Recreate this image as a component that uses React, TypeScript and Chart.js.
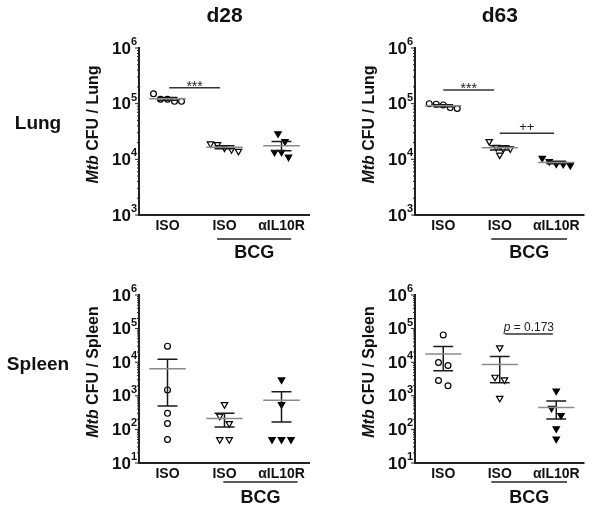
import React, { useEffect, useRef } from 'react';
import { Chart, registerables } from 'chart.js';

Chart.register(...registerables);

const FONT = '"Liberation Sans", Arial, Helvetica, sans-serif';

// ---------- labels ----------
const groupLabels = ['ISO', 'ISO', 'αIL10R'];
const bcgLabel = 'BCG';
const dayTitles = ['d28', 'd63'];
const organLabels = ['Lung', 'Spleen'];
const lungTickPowers = [3, 4, 5, 6];
const spleenTickPowers = [1, 2, 3, 4, 5, 6];

// ---------- data (Mtb CFU) ----------
const lungD28Iso = [150000, 120000, 110000, 110000, 120000];
const lungD28BcgIso = [19000, 16000, 14000, 15000, 18500];
const lungD28BcgAnti = [29000, 21000, 13500, 11000, 13500];

const lungD63Iso = [100000, 95000, 82000, 85000, 98000];
const lungD63BcgIso = [15500, 12000, 21000, 15500, 16500];
const lungD63BcgAnti = [10500, 8300, 7800, 8200, 9200];

const spleenD28Iso = [30000, 1500, 300, 150, 50];
const spleenD28BcgIso = [550, 250, 150, 50, 50];
const spleenD28BcgAnti = [3000, 550, 50, 50, 50];

const spleenD63Iso = [65000, 9800, 8000, 2000, 2850];
const spleenD63BcgIso = [27000, 3600, 3000, 850];
const spleenD63BcgAnti = [1400, 430, 260, 105, 52];

// ---------- significance annotations ----------
const sigLungD28 = [{ from: 0.53, to: 1.42, at: 194000, text: '***' }];
const sigLungD63 = [
  { from: 0.5, to: 1.4, at: 176000, text: '***' },
  { from: 1.5, to: 2.46, at: 29300, text: '++' },
];
const sigSpleenD28: any[] = [];
const sigSpleenD63 = [{ from: 1.59, to: 2.44, at: 69000, text: 'p = 0.173' }];

// ---------- panel layout ----------
type Panel = {
  key: string; x: number; y: number; w: number; h: number;
  pad: { left: number; top: number; right: number; bottom: number };
  organ: string; powers: number[]; groups: number[][];
  title?: string; rowLabel?: string; rowLabelY?: number;
  spacing: number; bcgSpan: [number, number]; bcgLineDy: number; bcgTextDy: number;
  sig: any[];
};

const panels: Panel[] = [
  {
    key: 'lung-d28', x: 0, y: 0, w: 330, h: 259,
    pad: { left: 139, top: 48, right: 20, bottom: 44 },
    organ: organLabels[0], powers: lungTickPowers,
    groups: [lungD28Iso, lungD28BcgIso, lungD28BcgAnti],
    title: dayTitles[0], rowLabel: organLabels[0], rowLabelY: 129,
    spacing: 7, bcgSpan: [1.37, 2.67], bcgLineDy: 24, bcgTextDy: 43, sig: sigLungD28,
  },
  {
    key: 'lung-d63', x: 330, y: 0, w: 270, h: 259,
    pad: { left: 85, top: 48, right: 15.5, bottom: 44 },
    organ: organLabels[0], powers: lungTickPowers,
    groups: [lungD63Iso, lungD63BcgIso, lungD63BcgAnti],
    title: dayTitles[1],
    spacing: 7, bcgSpan: [1.35, 2.69], bcgLineDy: 24, bcgTextDy: 43, sig: sigLungD63,
  },
  {
    key: 'spleen-d28', x: 0, y: 259, w: 330, h: 259,
    pad: { left: 139, top: 36, right: 20, bottom: 55 },
    organ: organLabels[1], powers: spleenTickPowers,
    groups: [spleenD28Iso, spleenD28BcgIso, spleenD28BcgAnti],
    rowLabel: organLabels[1], rowLabelY: 111,
    spacing: 9.5, bcgSpan: [1.48, 2.78], bcgLineDy: 19, bcgTextDy: 40, sig: sigSpleenD28,
  },
  {
    key: 'spleen-d63', x: 330, y: 259, w: 270, h: 259,
    pad: { left: 85, top: 36, right: 15.5, bottom: 55 },
    organ: organLabels[1], powers: spleenTickPowers,
    groups: [spleenD63Iso, spleenD63BcgIso, spleenD63BcgAnti],
    spacing: 9.5, bcgSpan: [1.35, 2.69], bcgLineDy: 19, bcgTextDy: 40, sig: sigSpleenD63,
  },
];

// deterministic "scatter dot plot" spreading: points within a few px share a row
function swarmOffsets(values: number[], pxPerDecade: number, spacingPx: number, thresholdPx: number) {
  const idx = values.map((_, i) => i).sort((a, b) => values[b] - values[a]);
  const offsets = new Array(values.length).fill(0);
  let bin: number[] = [];
  let binTop: number | null = null;
  const flush = () => {
    bin.forEach((i, k) => { offsets[i] = (k - (bin.length - 1) / 2) * spacingPx; });
  };
  for (const i of idx) {
    const l = Math.log10(values[i]);
    if (binTop !== null && (binTop - l) * pxPerDecade < thresholdPx) bin.push(i);
    else { flush(); bin = [i]; binTop = l; }
  }
  flush();
  return offsets;
}

const markerStyles = [
  { pointStyle: 'circle', pointRotation: 0, pointRadius: 2.9, pointBackgroundColor: '#ffffff' },
  { pointStyle: 'triangle', pointRotation: 180, pointRadius: 3.7, pointBackgroundColor: '#ffffff' },
  { pointStyle: 'triangle', pointRotation: 180, pointRadius: 3.7, pointBackgroundColor: '#000000' },
];

function stats(vals: number[]) {
  const n = vals.length;
  const mean = vals.reduce((a, b) => a + b, 0) / n;
  const sd = Math.sqrt(vals.reduce((a, v) => a + (v - mean) * (v - mean), 0) / (n - 1));
  return { mean, sem: sd / Math.sqrt(n) };
}

function makeDeco(cfg: Panel) {
  return {
    id: 'deco-' + cfg.key,
    afterDatasetsDraw(chart: any) {
      const ctx = chart.ctx as CanvasRenderingContext2D;
      const xs = chart.scales.x, ys = chart.scales.y;
      const minV = Math.pow(10, cfg.powers[0]);
      ctx.save();
      cfg.groups.forEach((vals, g) => {
        const { mean, sem } = stats(vals);
        const cx = xs.getPixelForValue(g + 0.5);
        const halfMean = xs.getPixelForValue(g + 0.5 + 0.32) - cx;
        const halfCap = xs.getPixelForValue(g + 0.5 + 0.175) - cx;
        const ym = ys.getPixelForValue(mean);
        const yu = ys.getPixelForValue(mean + sem);
        const yl = ys.getPixelForValue(Math.max(mean - sem, minV));
        ctx.lineWidth = 1.5;
        ctx.strokeStyle = '#1a1a1a';
        ctx.beginPath();
        ctx.moveTo(cx, yu); ctx.lineTo(cx, yl);
        ctx.moveTo(cx - halfCap, yu); ctx.lineTo(cx + halfCap, yu);
        ctx.moveTo(cx - halfCap, yl); ctx.lineTo(cx + halfCap, yl);
        ctx.stroke();
        ctx.strokeStyle = '#8a8a8a';
        ctx.beginPath();
        ctx.moveTo(cx - halfMean, ym); ctx.lineTo(cx + halfMean, ym);
        ctx.stroke();
      });
      // significance bars
      cfg.sig.forEach((s) => {
        const x1 = xs.getPixelForValue(s.from), x2 = xs.getPixelForValue(s.to);
        const y = ys.getPixelForValue(s.at);
        ctx.strokeStyle = '#333';
        ctx.lineWidth = 1.5;
        ctx.beginPath(); ctx.moveTo(x1, y); ctx.lineTo(x2, y); ctx.stroke();
        ctx.fillStyle = '#222';
        ctx.textAlign = 'center';
        ctx.textBaseline = 'alphabetic';
        const mid = (x1 + x2) / 2;
        if (s.text === '***') {
          ctx.font = `14px ${FONT}`;
          ctx.fillText(s.text, mid, y + 3);
        } else if (s.text.startsWith('p')) {
          const a = 'p', b = s.text.slice(1);
          ctx.font = `italic 12px ${FONT}`; const wa = ctx.measureText(a).width;
          ctx.font = `12px ${FONT}`; const wb = ctx.measureText(b).width;
          const start = mid - (wa + wb) / 2;
          ctx.textAlign = 'left';
          ctx.font = `italic 12px ${FONT}`; ctx.fillText(a, start, y - 3);
          ctx.font = `12px ${FONT}`; ctx.fillText(b, start + wa, y - 3);
        } else {
          ctx.font = `13px ${FONT}`;
          ctx.fillText(s.text, mid, y - 2);
        }
      });
      ctx.restore();
    },
    afterDraw(chart: any) {
      const ctx = chart.ctx as CanvasRenderingContext2D;
      const xs = chart.scales.x, ys = chart.scales.y;
      const area = chart.chartArea;
      const ax = area.left, by = area.bottom;
      ctx.save();
      ctx.strokeStyle = '#222';
      ctx.fillStyle = '#111';
      // axes
      ctx.lineWidth = 2;
      ctx.beginPath();
      ctx.moveTo(ax, area.top - 1); ctx.lineTo(ax, by);
      ctx.lineTo(area.right, by);
      ctx.stroke();
      // y ticks (major + minor)
      ctx.lineWidth = 1;
      const pw = cfg.powers;
      ctx.beginPath();
      for (let i = 0; i < pw.length; i++) {
        const y = ys.getPixelForValue(Math.pow(10, pw[i]));
        ctx.moveTo(ax - 4, y); ctx.lineTo(ax, y);
        if (i < pw.length - 1) {
          for (let k = 2; k <= 9; k++) {
            const yy = ys.getPixelForValue(k * Math.pow(10, pw[i]));
            ctx.moveTo(ax - 2, yy); ctx.lineTo(ax, yy);
          }
        }
      }
      ctx.stroke();
      // y tick labels 10^n
      ctx.textAlign = 'right';
      ctx.textBaseline = 'alphabetic';
      pw.forEach((p) => {
        const y = ys.getPixelForValue(Math.pow(10, p));
        ctx.font = `bold 11px ${FONT}`;
        const sw = ctx.measureText(String(p)).width;
        ctx.fillText(String(p), ax - 2, y - 3);
        ctx.font = `bold 17px ${FONT}`;
        ctx.fillText('10', ax - 2 - sw, y + 5.5);
      });
      // y axis title
      const t1 = 'Mtb', t2 = ` CFU / ${cfg.organ}`;
      ctx.font = `italic bold 16px ${FONT}`; const w1 = ctx.measureText(t1).width;
      ctx.font = `bold 16px ${FONT}`; const w2 = ctx.measureText(t2).width;
      ctx.save();
      ctx.translate(ax - 45, (area.top + area.bottom) / 2 - 7);
      ctx.rotate(-Math.PI / 2);
      ctx.textAlign = 'left';
      ctx.textBaseline = 'middle';
      ctx.font = `italic bold 16px ${FONT}`; ctx.fillText(t1, -(w1 + w2) / 2, 0);
      ctx.font = `bold 16px ${FONT}`; ctx.fillText(t2, -(w1 + w2) / 2 + w1, 0);
      ctx.restore();
      // x tick labels
      ctx.textAlign = 'center';
      ctx.font = `bold 14px ${FONT}`;
      groupLabels.forEach((lab, i) => {
        ctx.fillText(lab, xs.getPixelForValue(i + 0.5), by + 15);
      });
      // BCG bracket
      const bx1 = xs.getPixelForValue(cfg.bcgSpan[0]), bx2 = xs.getPixelForValue(cfg.bcgSpan[1]);
      ctx.lineWidth = 1.5;
      ctx.beginPath();
      ctx.moveTo(bx1, by + cfg.bcgLineDy); ctx.lineTo(bx2, by + cfg.bcgLineDy);
      ctx.stroke();
      ctx.font = `bold 18px ${FONT}`;
      ctx.fillText(bcgLabel, (bx1 + bx2) / 2, by + cfg.bcgTextDy);
      // column title
      if (cfg.title) {
        ctx.font = `bold 21px ${FONT}`;
        ctx.fillText(cfg.title, (area.left + area.right) / 2, 22);
      }
      // row label
      if (cfg.rowLabel) {
        ctx.font = `bold 19px ${FONT}`;
        ctx.fillText(cfg.rowLabel, 38, cfg.rowLabelY || 0);
      }
      ctx.restore();
    },
  };
}

function PanelChart({ cfg }: { cfg: Panel }) {
  const ref = useRef<HTMLCanvasElement>(null);
  useEffect(() => {
    const plotH = cfg.h - cfg.pad.top - cfg.pad.bottom;
    const plotW = cfg.w - cfg.pad.left - cfg.pad.right;
    const decades = cfg.powers[cfg.powers.length - 1] - cfg.powers[0];
    const pxPerDecade = plotH / decades;
    const pxPerUnit = plotW / groupLabels.length;
    const datasets = cfg.groups.map((vals, g) => {
      const offs = swarmOffsets(vals, pxPerDecade, cfg.spacing, 9);
      return {
        label: groupLabels[g],
        data: vals.map((v, i) => ({ x: g + 0.5 + offs[i] / pxPerUnit, y: v })),
        ...markerStyles[g],
        pointBorderColor: '#000000',
        pointBorderWidth: 1.2,
        showLine: false,
      };
    });
    const chart = new Chart(ref.current as HTMLCanvasElement, {
      type: 'scatter',
      data: { datasets: datasets as any },
      options: {
        responsive: false,
        animation: false,
        devicePixelRatio: 1,
        layout: { padding: cfg.pad },
        plugins: { legend: { display: false }, tooltip: { enabled: false } },
        scales: {
          x: { type: 'linear', min: 0, max: groupLabels.length, display: false },
          y: {
            type: 'logarithmic',
            min: Math.pow(10, cfg.powers[0]),
            max: Math.pow(10, cfg.powers[cfg.powers.length - 1]),
            display: false,
          },
        },
      } as any,
      plugins: [makeDeco(cfg)],
    });
    return () => chart.destroy();
  }, [cfg]);
  return (
    <canvas
      ref={ref}
      width={cfg.w}
      height={cfg.h}
      style={{ position: 'absolute', left: cfg.x, top: cfg.y, width: cfg.w, height: cfg.h }}
    />
  );
}

export default function App() {
  return (
    <div style={{ position: 'absolute', left: 0, top: 0, width: 600, height: 518, background: '#ffffff', overflow: 'hidden' }}>
      {panels.map((p) => (
        <PanelChart key={p.key} cfg={p} />
      ))}
    </div>
  );
}
